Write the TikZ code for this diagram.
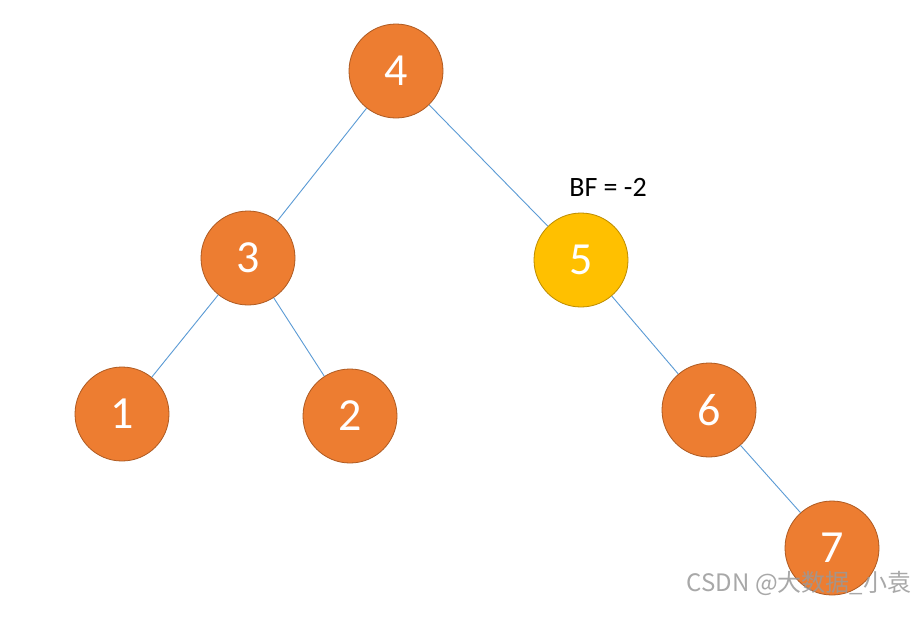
\documentclass[tikz,border=0pt]{standalone}
\usepackage{fontspec}
\setmainfont{Carlito}
\newfontfamily\cjk{Noto Sans CJK SC}
\definecolor{org}{HTML}{ED7D31}
\definecolor{orgb}{HTML}{AE5A21}
\definecolor{yel}{HTML}{FFC000}
\definecolor{yelb}{HTML}{BC8C00}
\definecolor{edge}{HTML}{5B9BD5}
\begin{document}
\begin{tikzpicture}[x=1pt,y=-1pt,
  tnode/.style={circle,minimum size=94pt,inner sep=0pt,fill=org,draw=orgb,line width=0.8pt,text=white,font=\fontsize{46}{46}\selectfont},
  ynode/.style={tnode,fill=yel,draw=yelb},
  tedge/.style={draw=edge,line width=0.9pt}]
\useasboundingbox (0,0) rectangle (923,633);
\fill[white] (0,0) rectangle (923,633);
\node[tnode] (n4) at (396,71) {4};
\node[tnode] (n3) at (248,258) {3};
\node[ynode] (n5) at (581,260) {5};
\node[tnode] (n1) at (122,414) {1};
\node[tnode] (n2) at (350,416) {2};
\node[tnode] (n6) at (709,410) {6};
\node[tnode] (n7) at (832,548) {7};
\draw[tedge] (n4) -- (n3);
\draw[tedge] (n4) -- (n5);
\draw[tedge] (n3) -- (n1);
\draw[tedge] (n3) -- (n2);
\draw[tedge] (n5) -- (n6);
\draw[tedge] (n6) -- (n7);
\node[font=\fontsize{28}{28}\selectfont] (bf) at (608,187) {BF = -2};
\node[font=\cjk\fontsize{24}{24}\selectfont,text=gray!80,opacity=0.85] (wm) at (799,583) {CSDN @大数据\_小袁};
\end{tikzpicture}
\end{document}
